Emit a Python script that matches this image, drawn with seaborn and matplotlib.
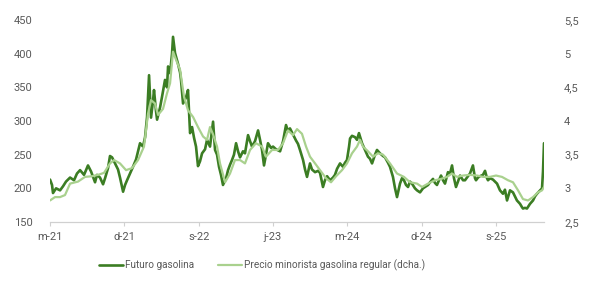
import numpy as np
import pandas as pd
import matplotlib
matplotlib.use("Agg")
import matplotlib.pyplot as plt
import seaborn as sns

# ---- data (decimal years, month convention year + (m-1)/12) ----
fut_t = [2021.167, 2021.187, 2021.197, 2021.228, 2021.268, 2021.298, 2021.328, 2021.369, 2021.409, 2021.439,
         2021.470, 2021.510, 2021.550, 2021.581, 2021.621, 2021.641, 2021.671, 2021.702, 2021.722, 2021.752,
         2021.772, 2021.793, 2021.823, 2021.853, 2021.873, 2021.904, 2021.924, 2021.944, 2021.974, 2022.004,
         2022.035, 2022.075, 2022.105, 2022.126, 2022.146, 2022.166, 2022.186, 2022.206, 2022.216, 2022.236,
         2022.247, 2022.277, 2022.297, 2022.327, 2022.347, 2022.358, 2022.378, 2022.398, 2022.408, 2022.428,
         2022.458, 2022.479, 2022.489, 2022.509, 2022.539, 2022.559, 2022.580, 2022.600, 2022.620, 2022.640,
         2022.660, 2022.680, 2022.701, 2022.731, 2022.751, 2022.781, 2022.812, 2022.832, 2022.852, 2022.872,
         2022.892, 2022.912, 2022.943, 2022.963, 2022.983, 2023.003, 2023.023, 2023.044, 2023.064, 2023.084,
         2023.114, 2023.134, 2023.165, 2023.185, 2023.205, 2023.235, 2023.266, 2023.286, 2023.306, 2023.326,
         2023.346, 2023.366, 2023.397, 2023.417, 2023.447, 2023.488, 2023.518, 2023.548, 2023.568, 2023.588,
         2023.619, 2023.649, 2023.669, 2023.689, 2023.720, 2023.740, 2023.760, 2023.790, 2023.810, 2023.841,
         2023.871, 2023.891, 2023.921, 2023.941, 2023.962, 2023.992, 2024.022, 2024.042, 2024.063, 2024.093,
         2024.123, 2024.143, 2024.163, 2024.184, 2024.194, 2024.214, 2024.244, 2024.264, 2024.284, 2024.315,
         2024.345, 2024.375, 2024.395, 2024.416, 2024.446, 2024.466, 2024.496, 2024.527, 2024.547, 2024.577,
         2024.597, 2024.627, 2024.648, 2024.668, 2024.688, 2024.698, 2024.718, 2024.738, 2024.759, 2024.779,
         2024.799, 2024.819, 2024.849, 2024.870, 2024.900, 2024.930, 2024.950, 2024.981, 2025.001, 2025.031,
         2025.051, 2025.071, 2025.092, 2025.112, 2025.132, 2025.152, 2025.182, 2025.203, 2025.223, 2025.243,
         2025.263, 2025.283, 2025.304, 2025.334, 2025.354, 2025.384, 2025.404, 2025.434, 2025.455, 2025.465,
         2025.485, 2025.505, 2025.535, 2025.556, 2025.576, 2025.586, 2025.606, 2025.636, 2025.657, 2025.677,
         2025.707, 2025.737, 2025.757, 2025.778, 2025.808, 2025.838, 2025.858, 2025.878, 2025.909, 2025.929,
         2025.939, 2025.959, 2025.979, 2026.010, 2026.040, 2026.060, 2026.080, 2026.111, 2026.131, 2026.141,
         2026.151]
fut_v = [213, 205, 193, 200, 197, 203, 210, 216, 212, 222,
         227, 220, 234, 225, 209, 220, 216, 206, 215, 230,
         248, 246, 237, 228, 216, 195, 205, 212, 222, 232,
         243, 267, 262, 276, 306, 368, 305, 330, 346, 315,
         302, 320, 336, 361, 350, 381, 371, 400, 425, 401,
         385, 372, 360, 326, 335, 346, 282, 291, 275, 262,
         233, 240, 252, 258, 272, 262, 299, 257, 250, 232,
         220, 205, 215, 227, 235, 242, 250, 267, 255, 246,
         255, 252, 279, 270, 262, 270, 286, 272, 257, 234,
         250, 267, 260, 262, 258, 255, 270, 294, 285, 289,
         280, 271, 266, 257, 242, 228, 217, 237, 228, 224,
         226, 223, 202, 212, 218, 212, 216, 220, 229, 237,
         232, 238, 242, 262, 274, 278, 276, 272, 282, 267,
         257, 247, 244, 237, 250, 257, 252, 248, 246, 238,
         232, 217, 200, 187, 200, 207, 215, 212, 205, 202,
         210, 207, 200, 197, 194, 200, 202, 205, 209, 214,
         208, 205, 212, 219, 212, 207, 224, 222, 234, 215,
         202, 210, 219, 212, 212, 218, 222, 234, 215, 212,
         216, 218, 220, 226, 215, 212, 215, 213, 210, 207,
         197, 192, 198, 182, 197, 194, 188, 182, 177, 172,
         170, 171, 170, 177, 182, 188, 192, 197, 200, 225,
         267]

ret_t = [2021.167, 2021.217, 2021.268, 2021.318, 2021.369, 2021.449, 2021.520, 2021.591, 2021.651, 2021.712,
         2021.772, 2021.813, 2021.873, 2021.934, 2021.994, 2022.055, 2022.115, 2022.156, 2022.186, 2022.226,
         2022.257, 2022.307, 2022.347, 2022.378, 2022.408, 2022.438, 2022.479, 2022.519, 2022.559, 2022.610,
         2022.660, 2022.711, 2022.751, 2022.781, 2022.812, 2022.852, 2022.882, 2022.933, 2022.983, 2023.033,
         2023.084, 2023.134, 2023.185, 2023.245, 2023.306, 2023.346, 2023.407, 2023.467, 2023.518, 2023.568,
         2023.619, 2023.659, 2023.709, 2023.750, 2023.790, 2023.841, 2023.891, 2023.952, 2024.002, 2024.053,
         2024.113, 2024.163, 2024.214, 2024.264, 2024.295, 2024.325, 2024.375, 2024.426, 2024.476, 2024.527,
         2024.597, 2024.668, 2024.738, 2024.799, 2024.870, 2024.920, 2024.981, 2025.051, 2025.112, 2025.172,
         2025.223, 2025.273, 2025.334, 2025.404, 2025.475, 2025.535, 2025.606, 2025.667, 2025.727, 2025.788,
         2025.838, 2025.889, 2025.939, 2025.990, 2026.040, 2026.090, 2026.131, 2026.151]
ret_v = [2.82, 2.87, 2.87, 2.90, 3.07, 3.10, 3.17, 3.18, 3.20, 3.23,
         3.37, 3.42, 3.37, 3.27, 3.30, 3.42, 3.62, 4.11, 4.31, 4.26,
         4.09, 4.18, 4.41, 4.56, 5.03, 4.91, 4.76, 4.36, 4.16, 4.06,
         3.91, 3.77, 3.72, 3.91, 3.80, 3.62, 3.37, 3.09, 3.22, 3.42,
         3.42, 3.37, 3.57, 3.67, 3.62, 3.47, 3.57, 3.57, 3.67, 3.86,
         3.79, 3.88, 3.81, 3.62, 3.47, 3.37, 3.27, 3.15, 3.09, 3.18,
         3.27, 3.37, 3.52, 3.62, 3.72, 3.62, 3.55, 3.47, 3.52, 3.50,
         3.37, 3.22, 3.17, 3.09, 3.07, 3.02, 3.07, 3.12, 3.14, 3.17,
         3.22, 3.17, 3.19, 3.20, 3.19, 3.17, 3.17, 3.19, 3.17, 3.12,
         3.09, 2.97, 2.84, 2.82, 2.87, 2.94, 2.97, 3.02]

tick_years = [2021, 2021, 2022, 2023, 2024, 2024, 2025]
tick_months = [3, 12, 9, 6, 3, 12, 9]
tick_labels = ["m-21", "d-21", "s-22", "j-23", "m-24", "d-24", "s-25"]
left_ticks = [150, 200, 250, 300, 350, 400, 450]
right_ticks = [2.5, 3.0, 3.5, 4.0, 4.5, 5.0, 5.5]
right_labels = ["2,5", "3", "3,5", "4", "4,5", "5", "5,5"]
name_fut = "Futuro gasolina"
name_ret = "Precio minorista gasolina regular (dcha.)"

# ---- plot ----
sns.set_style("white")
plt.rcParams["font.family"] = ["Roboto", "DejaVu Sans"]

DARK = "#3b7d23"
LIGHT = "#a9d18e"
GREY = "#595959"

fig = plt.figure(figsize=(5.98, 2.84), dpi=100)
ax = fig.add_axes([50/598, 1-222/284, (544-50)/598, (222-20)/284])
ax2 = ax.twinx()

df_f = pd.DataFrame({"t": fut_t, "v": fut_v})
df_r = pd.DataFrame({"t": ret_t, "v": ret_v})
sns.lineplot(data=df_f, x="t", y="v", ax=ax, color=DARK, lw=1.9, label=name_fut, legend=False)
sns.lineplot(data=df_r, x="t", y="v", ax=ax2, color=LIGHT, lw=1.6, label=name_ret, legend=False)

xt = [y + (m - 1) / 12 for y, m in zip(tick_years, tick_months)]
ax.set_xlim(fut_t[0], fut_t[-1])
ax.set_xticks(xt)
ax.set_xticklabels(tick_labels)
ax.set_ylim(left_ticks[0], left_ticks[-1])
ax.set_yticks(left_ticks)
ax2.set_ylim(right_ticks[0], right_ticks[-1])
ax2.set_yticks(right_ticks)
ax2.set_yticklabels(right_labels)

for a in (ax, ax2):
    a.set_xlabel("")
    a.set_ylabel("")
    for s in a.spines.values():
        s.set_visible(False)
    a.grid(False)
ax.spines["bottom"].set_visible(True)
ax.spines["bottom"].set_color("#d0d0d0")
ax.spines["bottom"].set_linewidth(0.9)

ax.tick_params(axis="x", bottom=True, length=3, width=0.8, color="#d0d0d0",
               labelsize=8, labelcolor=GREY, pad=4)
ax.tick_params(axis="y", left=False, labelsize=8, labelcolor=GREY, pad=9)
ax2.tick_params(axis="y", right=False, labelsize=8, labelcolor=GREY, pad=11)

h1, l1 = ax.get_legend_handles_labels()
h2, l2 = ax2.get_legend_handles_labels()
fig.legend(h1 + h2, l1 + l2, loc="center", bbox_to_anchor=(262/598, 1-265/284),
           ncol=2, frameon=False, fontsize=7.2, labelcolor=GREY, handlelength=2.4,
           handletextpad=0.2, columnspacing=2.4)

fig.savefig("out.png", dpi=100, facecolor="white")
